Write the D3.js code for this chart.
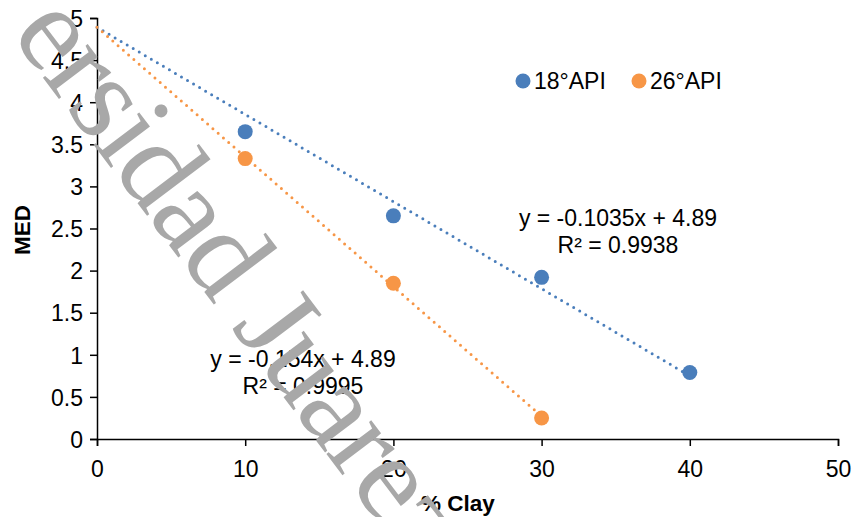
<!DOCTYPE html>
<html>
<head>
<meta charset="utf-8">
<script src="https://cdn.jsdelivr.net/npm/d3@7"></script>
<style>
  body { margin: 0; background: #fff; }
  svg text { font-family: Arial, "Liberation Sans", sans-serif; }
</style>
</head>
<body>
<div id="container"></div>
<script>
/* CONSTANTS AND GLOBALS */
const width = 855,
  height = 517,
  margin = {top: 18, bottom: 78, left: 97, right: 17};

/* DATA */
const seriesNames = ["18°API", "26°API"];
const colors = ["#4a7ebb", "#f79646"];
const clay18 = [10, 20, 30, 40];
const med18 = [3.65, 2.65, 1.92, 0.79];
const clay26 = [10, 20, 30];
const med26 = [3.33, 1.85, 0.25];
// trendline coefficients shown on the chart
const slopes = [-0.1035, -0.154];
const intercepts = [4.89, 4.89];
const trendEnd = [40, 30];
const eqLabels = [["y = -0.1035x + 4.89", "R² = 0.9938"], ["y = -0.154x + 4.89", "R² = 0.9995"]];
const xTicks = [0, 10, 20, 30, 40, 50];
const yTicks = [0, 0.5, 1, 1.5, 2, 2.5, 3, 3.5, 4, 4.5, 5];

/* SCALES */
const xScale = d3.scaleLinear()
  .domain([0, 50])
  .range([margin.left, width - margin.right]);

const yScale = d3.scaleLinear()
  .domain([0, 5])
  .range([height - margin.bottom, margin.top]);

const svg = d3.select("#container")
  .append("svg")
  .attr("width", width)
  .attr("height", height);

/* AXES */
const xAxis = d3.axisBottom(xScale).tickValues(xTicks).tickSizeOuter(0).tickSize(7).tickPadding(6).tickFormat(d3.format("d"));
const yAxis = d3.axisLeft(yScale).tickValues(yTicks).tickSizeOuter(0).tickSize(7).tickPadding(7).tickFormat(d => d);

const gx = svg.append("g")
  .attr("transform", `translate(0, ${height - margin.bottom})`)
  .call(xAxis);
const gy = svg.append("g")
  .attr("transform", `translate(${margin.left}, 0)`)
  .call(yAxis);

[gx, gy].forEach(g => {
  g.selectAll("path, line").attr("stroke", "#000").attr("stroke-width", 1.5);
  g.selectAll("text").attr("font-size", 23).attr("fill", "#000")
    .style("font-family", "Arial, 'Liberation Sans', sans-serif");
});
gx.selectAll("text").attr("dy", null).attr("y", 38);
gy.selectAll("text").attr("dy", "0.36em");

svg.append("text")
  .attr("x", 458).attr("y", 511)
  .attr("text-anchor", "middle")
  .attr("font-size", 22.5).attr("font-weight", "bold")
  .text("% Clay");

svg.append("text")
  .attr("transform", `translate(30, 230) rotate(-90)`)
  .attr("text-anchor", "middle")
  .attr("font-size", 22.5).attr("font-weight", "bold")
  .text("MED");

/* TRENDLINES */
slopes.forEach((m, i) => {
  svg.append("line")
    .attr("x1", xScale(0)).attr("y1", yScale(intercepts[i]))
    .attr("x2", xScale(trendEnd[i])).attr("y2", yScale(intercepts[i] + m * trendEnd[i]))
    .attr("stroke", colors[i])
    .attr("stroke-width", 3)
    .attr("stroke-linecap", "round")
    .attr("stroke-dasharray", "0,7");
});

/* POINTS */
const pts = [
  clay18.map((x, j) => ({x, y: med18[j], s: 0})),
  clay26.map((x, j) => ({x, y: med26[j], s: 1}))
].flat();

svg.selectAll(".dot")
  .data(pts)
  .join("circle")
  .attr("class", "dot")
  .attr("cx", d => xScale(d.x))
  .attr("cy", d => yScale(d.y))
  .attr("r", 7.5)
  .attr("fill", d => colors[d.s]);

/* EQUATION LABELS */
const eqPos = [[618, 226], [303, 367]];
eqLabels.forEach((lines, i) => {
  lines.forEach((t, k) => {
    svg.append("text")
      .attr("x", eqPos[i][0]).attr("y", eqPos[i][1] + k * 27)
      .attr("text-anchor", "middle")
      .attr("font-size", 23)
      .text(t);
  });
});

/* LEGEND */
const legendX = [523, 639];
seriesNames.forEach((name, i) => {
  svg.append("circle")
    .attr("cx", legendX[i]).attr("cy", 81).attr("r", 7.5)
    .attr("fill", colors[i]);
  svg.append("text")
    .attr("x", legendX[i] + 11).attr("y", 89)
    .attr("font-size", 23)
    .text(name);
});

/* WATERMARK */
svg.append("text")
  .attr("transform", "translate(10, 34) rotate(53)")
  .attr("font-size", 122)
  .attr("letter-spacing", -2)
  .attr("fill", "#a8a8a8")
  .style("font-family", "'Liberation Serif', 'Times New Roman', serif")
  .text("ersidad Juarez");
</script>
</body>
</html>
